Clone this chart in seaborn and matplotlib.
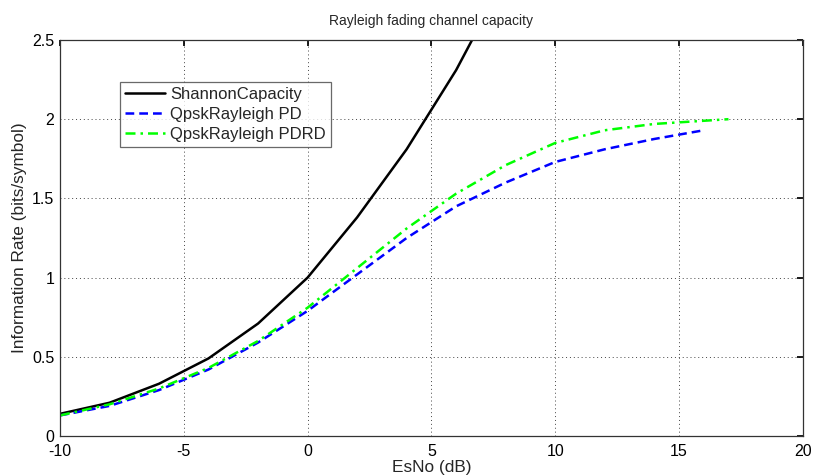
import matplotlib
matplotlib.use("Agg")
import matplotlib.pyplot as plt
import seaborn as sns
import pandas as pd

esno_shannon = [-10, -8, -6, -4, -2, 0, 2, 4, 6, 8]
shannon = [0.14, 0.21, 0.33, 0.49, 0.71, 1.00, 1.38, 1.81, 2.31, 2.90]

esno_pd = [-10, -8, -6, -4, -2, 0, 2, 4, 6, 8, 10, 12, 14, 16]
qpsk_pd = [0.13, 0.19, 0.29, 0.42, 0.59, 0.79, 1.02, 1.25, 1.45, 1.60, 1.73, 1.81, 1.875, 1.93]

esno_pdrd = [-10, -8, -6, -4, -2, 0, 2, 4, 6, 8, 10, 12, 14, 16, 17]
qpsk_pdrd = [0.13, 0.20, 0.30, 0.43, 0.60, 0.81, 1.06, 1.31, 1.53, 1.71, 1.85, 1.93, 1.97, 1.99, 2.00]

xticks = [-10, -5, 0, 5, 10, 15, 20]
xticklabels = ["-10", "-5", "0", "5", "10", "15", "20"]
yticks = [0, 0.5, 1, 1.5, 2, 2.5]
yticklabels = ["0", "0.5", "1", "1.5", "2", "2.5"]

sns.set_theme(style="white")
plt.rcParams['font.family'] = ['Liberation Sans', 'DejaVu Sans']
plt.rcParams['axes.unicode_minus'] = False

fig = plt.figure(figsize=(8.15, 4.76), dpi=100)
ax = fig.add_axes([0.0736, 0.084, 0.9114, 0.832])

df_s = pd.DataFrame({"x": esno_shannon, "y": shannon})
df_p = pd.DataFrame({"x": esno_pd, "y": qpsk_pd})
df_r = pd.DataFrame({"x": esno_pdrd, "y": qpsk_pdrd})

sns.lineplot(data=df_s, x="x", y="y", ax=ax, color="black", lw=1.8, label="ShannonCapacity")
sns.lineplot(data=df_p, x="x", y="y", ax=ax, color="#0000ff", lw=1.8, linestyle=(0, (3.5, 2)), label="QpskRayleigh PD")
sns.lineplot(data=df_r, x="x", y="y", ax=ax, color="#00ff00", lw=1.8, linestyle=(0, (4, 2, 1, 2)), label="QpskRayleigh PDRD")

ax.set_xlim(-10, 20)
ax.set_ylim(0, 2.5)
ax.set_xticks(xticks)
ax.set_xticklabels(xticklabels)
ax.set_yticks(yticks)
ax.set_yticklabels(yticklabels)
ax.grid(True, linestyle=(0, (1, 3)), color="#444444", lw=0.7)
ax.tick_params(axis="both", labelsize=11.5, direction="in", length=4, colors="black",
               top=True, right=True)
ax.tick_params(axis="x", pad=5.5)
ax.tick_params(axis="y", pad=4)
for s in ax.spines.values():
    s.set_color("#333333")
    s.set_linewidth(0.9)
ax.set_xlabel("EsNo (dB)", fontsize=12.4, labelpad=1)
ax.set_ylabel("Information Rate (bits/symbol)", fontsize=12.4, labelpad=4)
ax.set_title("Rayleigh fading channel capacity", fontsize=10, pad=11)

leg = ax.legend(loc="upper left", bbox_to_anchor=(0.081, 0.895), fontsize=12,
                frameon=True, fancybox=False, handlelength=2.4, borderpad=0.3,
                labelspacing=0.3, handletextpad=0.3, borderaxespad=0)
leg.get_frame().set_edgecolor("#444444")
leg.get_frame().set_linewidth(0.9)

fig.savefig("out.png", dpi=100)
